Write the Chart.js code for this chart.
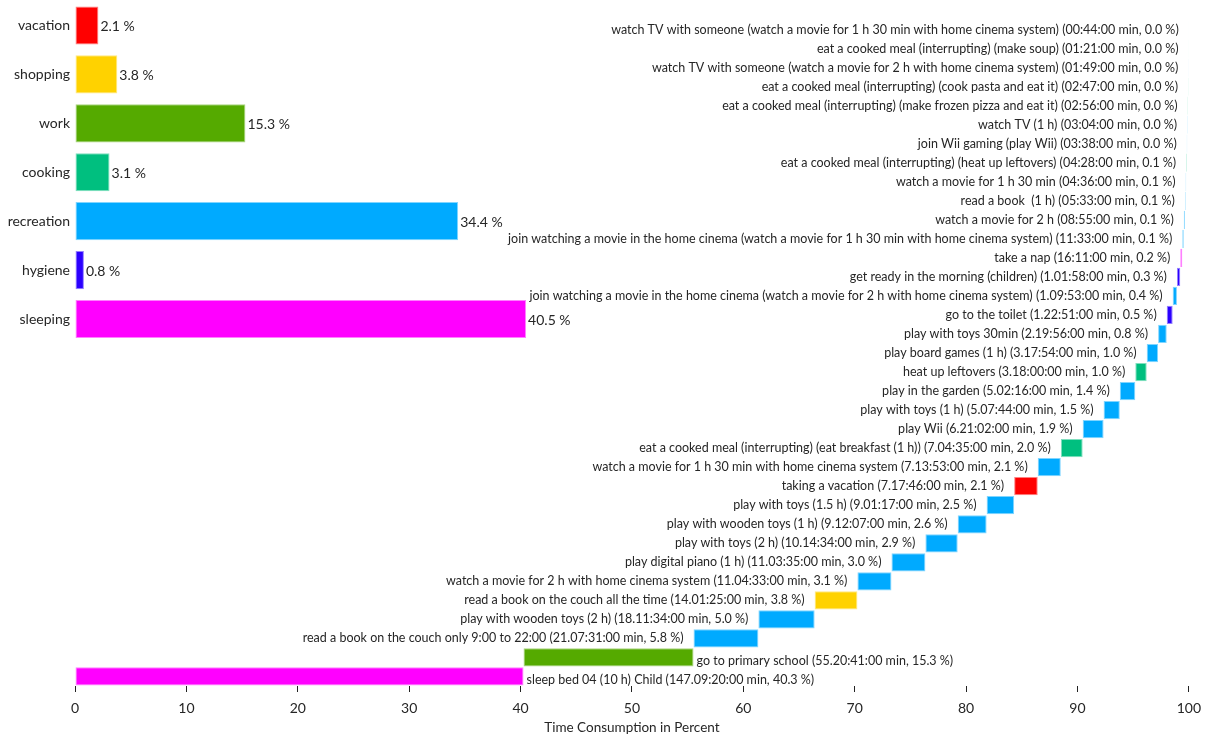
<!DOCTYPE html>
<html>
<head>
<meta charset="utf-8">
<script src="https://cdn.jsdelivr.net/npm/chart.js@4"></script>
<style>
  html, body { margin: 0; padding: 0; background: #fff; }
</style>
</head>
<body>
<canvas id="chart" width="1209" height="738"></canvas>
<script>
// === Category totals (left bars) ===
const categories = ['vacation', 'shopping', 'work', 'cooking', 'recreation', 'hygiene', 'sleeping'];
const categoryShares = [2.1, 3.8, 15.3, 3.1, 34.4, 0.8, 40.5];

// === Activities, top to bottom, with durations as written (d.hh:mm:ss) ===
const activities = [
  'watch TV with someone (watch a movie for 1 h 30 min with home cinema system)',
  'eat a cooked meal (interrupting) (make soup)',
  'watch TV with someone (watch a movie for 2 h with home cinema system)',
  'eat a cooked meal (interrupting) (cook pasta and eat it)',
  'eat a cooked meal (interrupting) (make frozen pizza and eat it)',
  'watch TV (1 h)',
  'join Wii gaming (play Wii)',
  'eat a cooked meal (interrupting) (heat up leftovers)',
  'watch a movie for 1 h 30 min',
  'read a book  (1 h)',
  'watch a movie for 2 h',
  'join watching a movie in the home cinema (watch a movie for 1 h 30 min with home cinema system)',
  'take a nap',
  'get ready in the morning (children)',
  'join watching a movie in the home cinema (watch a movie for 2 h with home cinema system)',
  'go to the toilet',
  'play with toys 30min',
  'play board games (1 h)',
  'heat up leftovers',
  'play in the garden',
  'play with toys (1 h)',
  'play Wii',
  'eat a cooked meal (interrupting) (eat breakfast (1 h))',
  'watch a movie for 1 h 30 min with home cinema system',
  'taking a vacation',
  'play with toys (1.5 h)',
  'play with wooden toys (1 h)',
  'play with toys (2 h)',
  'play digital piano (1 h)',
  'watch a movie for 2 h with home cinema system',
  'read a book on the couch all the time',
  'play with wooden toys (2 h)',
  'read a book on the couch only 9:00 to 22:00',
  'go to primary school',
  'sleep bed 04 (10 h) Child'
];
const durations = [
  '00:44:00', '01:21:00', '01:49:00', '02:47:00', '02:56:00', '03:04:00', '03:38:00',
  '04:28:00', '04:36:00', '05:33:00', '08:55:00', '11:33:00', '16:11:00',
  '1.01:58:00', '1.09:53:00', '1.22:51:00', '2.19:56:00', '3.17:54:00', '3.18:00:00',
  '5.02:16:00', '5.07:44:00', '6.21:02:00', '7.04:35:00', '7.13:53:00', '7.17:46:00',
  '9.01:17:00', '9.12:07:00', '10.14:34:00', '11.03:35:00', '11.04:33:00',
  '14.01:25:00', '18.11:34:00', '21.07:31:00', '55.20:41:00', '147.09:20:00'
];
const activityCategory = [
  'recreation', 'cooking', 'recreation', 'cooking', 'cooking', 'recreation', 'recreation',
  'cooking', 'recreation', 'recreation', 'recreation', 'recreation', 'sleeping',
  'hygiene', 'recreation', 'hygiene', 'recreation', 'recreation', 'cooking',
  'recreation', 'recreation', 'recreation', 'cooking', 'recreation', 'vacation',
  'recreation', 'recreation', 'recreation', 'recreation', 'recreation',
  'shopping', 'recreation', 'recreation', 'work', 'sleeping'
];
const xTicks = [0, 10, 20, 30, 40, 50, 60, 70, 80, 90, 100];

// === Styles ===
const categoryColors = {
  vacation: '#ff0000', shopping: '#ffd200', work: '#55aa00', cooking: '#00bf7f',
  recreation: '#00aaff', hygiene: '#2b00ff', sleeping: '#ff00ff'
};
const textColor = '#262626';
const fontFamily = 'Lato, "Liberation Sans", sans-serif';

function lighter(hex) {
  const n = parseInt(hex.slice(1), 16);
  const mix = c => Math.round(c + (255 - c) * 0.5);
  return `rgb(${mix(n >> 16)}, ${mix((n >> 8) & 255)}, ${mix(n & 255)})`;
}

// === Durations -> share of the year ===
function toMinutes(s) {
  let days = 0, rest = s;
  if (s.includes('.')) { const p = s.split('.'); days = +p[0]; rest = p[1]; }
  const [h, m, sec] = rest.split(':').map(Number);
  return days * 1440 + h * 60 + m + sec / 60;
}
const minutes = durations.map(toMinutes);
const total = minutes.reduce((a, b) => a + b, 0);
const shares = minutes.map(m => m / total * 100);

// waterfall from the bottom row upward
const ranges = new Array(activities.length);
let acc = 0;
for (let i = activities.length - 1; i >= 0; i--) {
  ranges[i] = [acc, acc + shares[i]];
  acc += shares[i];
}

// activity axis has a blank row on top, the summary axis blank rows below
const actLabels = [''].concat(activities);
const actData = [null].concat(ranges);
const actColors = ['#fff'].concat(activityCategory.map(c => categoryColors[c]));
const catLabels = categories.concat(['', '', '', '', '', '', '']);
const catData = categoryShares.concat([null, null, null, null, null, null, null]);
const catColors = categories.map(c => categoryColors[c]);

// === Text on and next to the bars ===
const barLabels = {
  id: 'barLabels',
  afterDatasetsDraw(chart) {
    const { ctx, chartArea } = chart;
    ctx.save();
    ctx.fillStyle = textColor;
    ctx.textBaseline = 'middle';

    ctx.font = `14px ${fontFamily}`;
    ctx.textAlign = 'left';
    chart.getDatasetMeta(0).data.forEach((bar, i) => {
      if (i >= categoryShares.length) return;
      ctx.fillText(`${categoryShares[i].toFixed(1)} %`, bar.x + 2, bar.y + 1);
    });

    ctx.beginPath();
    ctx.rect(chartArea.left, chartArea.top, chartArea.right - chartArea.left, chartArea.bottom - chartArea.top);
    ctx.clip();
    ctx.font = `12.5px ${fontFamily}`;
    chart.getDatasetMeta(1).data.forEach((bar, i) => {
      if (i === 0) return;
      const k = i - 1;
      const text = `${activities[k]} (${durations[k]} min, ${shares[k].toFixed(1)} %)`;
      const start = Math.min(bar.base, bar.x);
      const end = Math.max(bar.base, bar.x);
      if (start - chartArea.left >= chartArea.right - end) {
        ctx.textAlign = 'right';
        ctx.fillText(text, start - 10, bar.y);
      } else {
        ctx.textAlign = 'left';
        ctx.fillText(text, end + 3, bar.y + 3.5);
      }
    });
    ctx.restore();
  }
};

new Chart(document.getElementById('chart'), {
  type: 'bar',
  data: {
    datasets: [
      {
        label: 'categories',
        data: catData,
        yAxisID: 'yc',
        backgroundColor: catColors,
        borderColor: catColors.map(lighter),
        borderWidth: 1,
        borderSkipped: false,
        grouped: false,
        barPercentage: 0.78,
        categoryPercentage: 1
      },
      {
        label: 'activities',
        data: actData,
        yAxisID: 'ya',
        backgroundColor: actColors,
        borderColor: actColors.map(lighter),
        borderWidth: 1,
        borderSkipped: false,
        grouped: false,
        barPercentage: 0.96,
        categoryPercentage: 1
      }
    ]
  },
  options: {
    indexAxis: 'y',
    responsive: false,
    animation: false,
    layout: { padding: { top: 1, right: 19, left: 0, bottom: 0 } },
    scales: {
      x: {
        type: 'linear',
        position: 'bottom',
        min: 0,
        max: 100,
        afterBuildTicks: s => { s.ticks = xTicks.map(v => ({ value: v })); },
        ticks: { color: textColor, font: { family: fontFamily, size: 14 }, padding: 8 },
        grid: { drawOnChartArea: false, drawTicks: true, tickLength: 6, tickColor: '#222' },
        border: { display: false },
        title: {
          display: true,
          text: 'Time Consumption in Percent',
          color: textColor,
          font: { family: fontFamily, size: 13.5 },
          padding: { top: 2, bottom: 2 }
        },
        afterFit: s => { s.height = 52; }
      },
      yc: {
        type: 'category',
        labels: catLabels,
        position: 'left',
        grid: { display: false, drawTicks: false },
        border: { display: false },
        ticks: { color: textColor, font: { family: fontFamily, size: 14 }, padding: 5, autoSkip: false },
        afterFit: s => { s.width = 75; s.paddingTop = 0; s.paddingBottom = 0; }
      },
      ya: {
        type: 'category',
        labels: actLabels,
        position: 'left',
        display: false
      }
    },
    plugins: {
      legend: { display: false },
      tooltip: { enabled: false }
    }
  },
  plugins: [barLabels]
});
</script>
</body>
</html>
